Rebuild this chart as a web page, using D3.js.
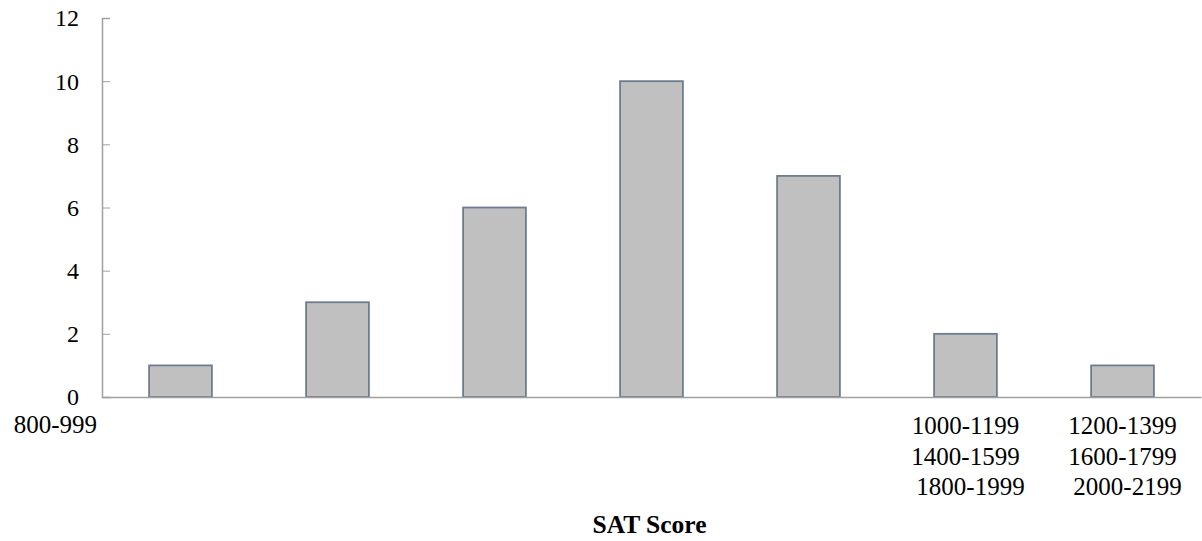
<!DOCTYPE html>
<html>
<head>
<meta charset="utf-8">
<script src="https://cdn.jsdelivr.net/npm/d3@7"></script>
<style>
  html, body { margin: 0; padding: 0; background: #fff; }
  svg { display: block; }
  text { font-family: "Liberation Serif", "Times New Roman", serif; fill: #000; }
</style>
</head>
<body>
<svg id="chart" width="1202" height="541"></svg>
<script>
// ---- data ----
const categories = ["800-999", "1000-1199", "1200-1399", "1400-1599", "1600-1799", "1800-1999", "2000-2199"];
const counts = [1, 3, 6, 10, 7, 2, 1];
const yTicks = [0, 2, 4, 6, 8, 10, 12];
const xTitle = "SAT Score";

// ---- layout ----
const x0 = 102, x1 = 1201, yTop = 18, yBot = 397;
const svg = d3.select("#chart");

const x = d3.scaleBand().domain(categories).range([x0, x1]).paddingInner(0.6).paddingOuter(0.3);
const y = d3.scaleLinear().domain([0, 12]).range([yBot, yTop]);

// bars
svg.append("g").selectAll("rect").data(categories).join("rect")
  .attr("x", d => x(d))
  .attr("y", (d, i) => y(counts[i]))
  .attr("width", x.bandwidth())
  .attr("height", (d, i) => y(0) - y(counts[i]))
  .attr("fill", "#c0c0c0")
  .attr("stroke", "#6f7c90")
  .attr("stroke-width", 1.8);

// y axis
const yAxis = d3.axisRight(y).tickValues(yTicks).tickSize(8).tickFormat(d3.format("d"));
const gy = svg.append("g").attr("transform", `translate(${x0},0)`).call(yAxis);
gy.select(".domain").attr("stroke", "#a0a0a0").attr("stroke-width", 1.5);
gy.selectAll(".tick line").attr("stroke", "#a0a0a0");
gy.selectAll(".tick text")
  .attr("x", -23).attr("text-anchor", "end").attr("dy", "0.33em")
  .style("font-size", "24px").attr("fill", "#000");

// x axis line
const xAxis = d3.axisBottom(x).tickSize(0).tickFormat("");
const gx = svg.append("g").attr("transform", `translate(0,${yBot})`).call(xAxis);
gx.select(".domain").attr("stroke", "#a0a0a0").attr("stroke-width", 1.5);

// x labels (as rendered in the reference: first at left, the rest wrapped under the last two bars)
const labelG = svg.append("g").style("font-size", "25px");
labelG.append("text")
  .attr("x", x0 - 5).attr("y", 433)
  .attr("text-anchor", "end")
  .text(categories[0]);
const colA = x(categories[5]) + x.bandwidth() / 2;
const colB = x(categories[6]) + x.bandwidth() / 2;
[[1, 2], [3, 4], [5, 6]].forEach((pair, row) => {
  const shift = row === 2 ? 5 : 0;
  labelG.append("text")
    .attr("x", colA + shift).attr("y", 434 + row * 30.5)
    .attr("text-anchor", "middle").text(categories[pair[0]]);
  labelG.append("text")
    .attr("x", colB + shift).attr("y", 434 + row * 30.5)
    .attr("text-anchor", "middle").text(categories[pair[1]]);
});

// x title
svg.append("text")
  .attr("x", 649.5).attr("y", 533)
  .attr("text-anchor", "middle")
  .style("font-size", "25.5px").style("font-weight", "bold")
  .text(xTitle);
</script>
</body>
</html>
